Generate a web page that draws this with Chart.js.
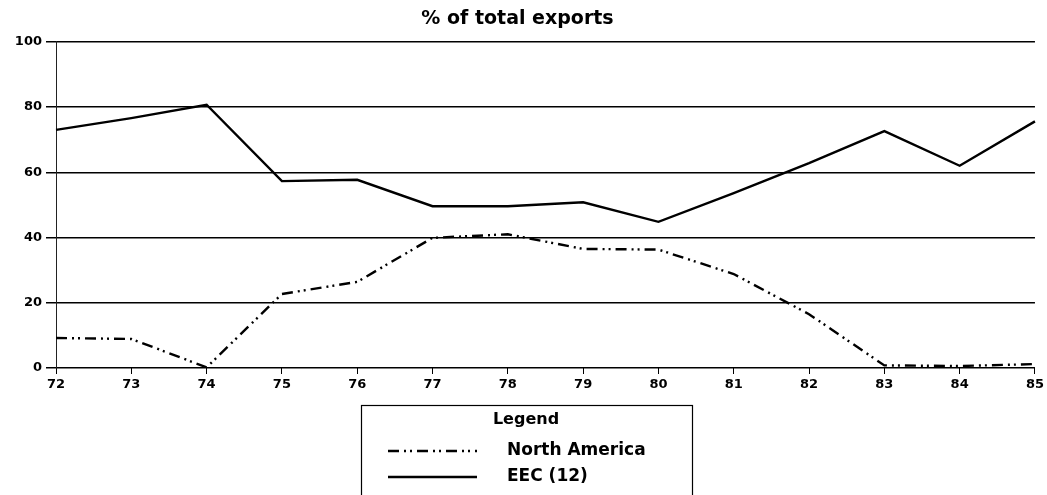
<!DOCTYPE html>
<html>
<head>
<meta charset="utf-8">
<script src="https://cdn.jsdelivr.net/npm/chart.js@4/dist/chart.umd.min.js"></script>
<style>
  html, body { margin: 0; padding: 0; background: #fff; }
  #wrap { width: 1047px; height: 495px; }
</style>
</head>
<body>
<div id="wrap"><canvas id="c" width="1047" height="495"></canvas></div>
<script>
const years = ['72','73','74','75','76','77','78','79','80','81','82','83','84','85'];
const northAmerica = [9.2, 8.9, 0.2, 22.7, 26.4, 39.9, 41, 36.5, 36.3, 28.8, 16.5, 0.8, 0.6, 1.2];
const eec = [73, 76.6, 80.7, 57.3, 57.7, 49.6, 49.6, 50.8, 44.8, 53.6, 62.8, 72.6, 62, 75.6];
const yTicks = [0, 20, 40, 60, 80, 100];
const titleText = '% of total exports';
const legendTitle = 'Legend';

const FONT = "'DejaVu Sans', sans-serif";

const legendBox = {
  id: 'legendBox',
  afterDraw(chart) {
    const ctx = chart.ctx;
    ctx.save();
    ctx.strokeStyle = '#000';
    ctx.lineWidth = 1.2;
    ctx.strokeRect(361.5, 405.5, 331, 100);
    ctx.fillStyle = '#000';
    ctx.textAlign = 'center';
    ctx.textBaseline = 'middle';
    ctx.font = 'bold 16px ' + FONT;
    ctx.fillText(legendTitle, 526, 420);
    const rows = [451, 477];
    chart.data.datasets.forEach((ds, i) => {
      const y = rows[i];
      ctx.beginPath();
      ctx.setLineDash(ds.borderDash || []);
      ctx.lineWidth = ds.borderWidth;
      ctx.strokeStyle = ds.borderColor;
      ctx.moveTo(388, y);
      ctx.lineTo(477, y);
      ctx.stroke();
      ctx.setLineDash([]);
      ctx.textAlign = 'left';
      ctx.font = 'bold 17px ' + FONT;
      ctx.fillText(ds.label, 507, y);
    });
    ctx.restore();
  }
};

new Chart(document.getElementById('c'), {
  type: 'line',
  data: {
    labels: years,
    datasets: [
      { label: 'North America', data: northAmerica, borderColor: '#000', borderWidth: 2.4,
        borderDash: [11, 5, 2, 4, 2, 5], pointRadius: 0, tension: 0, fill: false },
      { label: 'EEC (12)', data: eec, borderColor: '#000', borderWidth: 2.4,
        pointRadius: 0, tension: 0, fill: false }
    ]
  },
  options: {
    responsive: false,
    animation: false,
    devicePixelRatio: 1,
    layout: { padding: { left: 0, right: 12, top: 0, bottom: 0 } },
    plugins: {
      legend: { display: false },
      tooltip: { enabled: false },
      title: {
        display: true, text: titleText, color: '#000',
        font: { family: FONT, size: 19, weight: 'bold' },
        padding: { top: 8, bottom: 11 }
      }
    },
    scales: {
      x: {
        type: 'category',
        offset: false,
        grid: { drawOnChartArea: false, drawTicks: true, tickLength: 6, color: '#000', lineWidth: 1 },
        border: { display: false },
        ticks: { color: '#000', font: { family: FONT, size: 13, weight: 'bold' }, padding: 3, maxRotation: 0, autoSkip: false },
        afterFit(s) { s.height = 127; }
      },
      y: {
        min: 0, max: 100,
        afterBuildTicks(s) { s.ticks = yTicks.map(v => ({ value: v })); },
        grid: { color: '#000', lineWidth: 1.5, tickLength: 10 },
        border: { display: true, color: '#222', width: 1 },
        ticks: { color: '#000', font: { family: FONT, size: 13, weight: 'bold' }, padding: 4 },
        afterFit(s) { s.width = 56; }
      }
    }
  },
  plugins: [legendBox]
});
</script>
</body>
</html>
